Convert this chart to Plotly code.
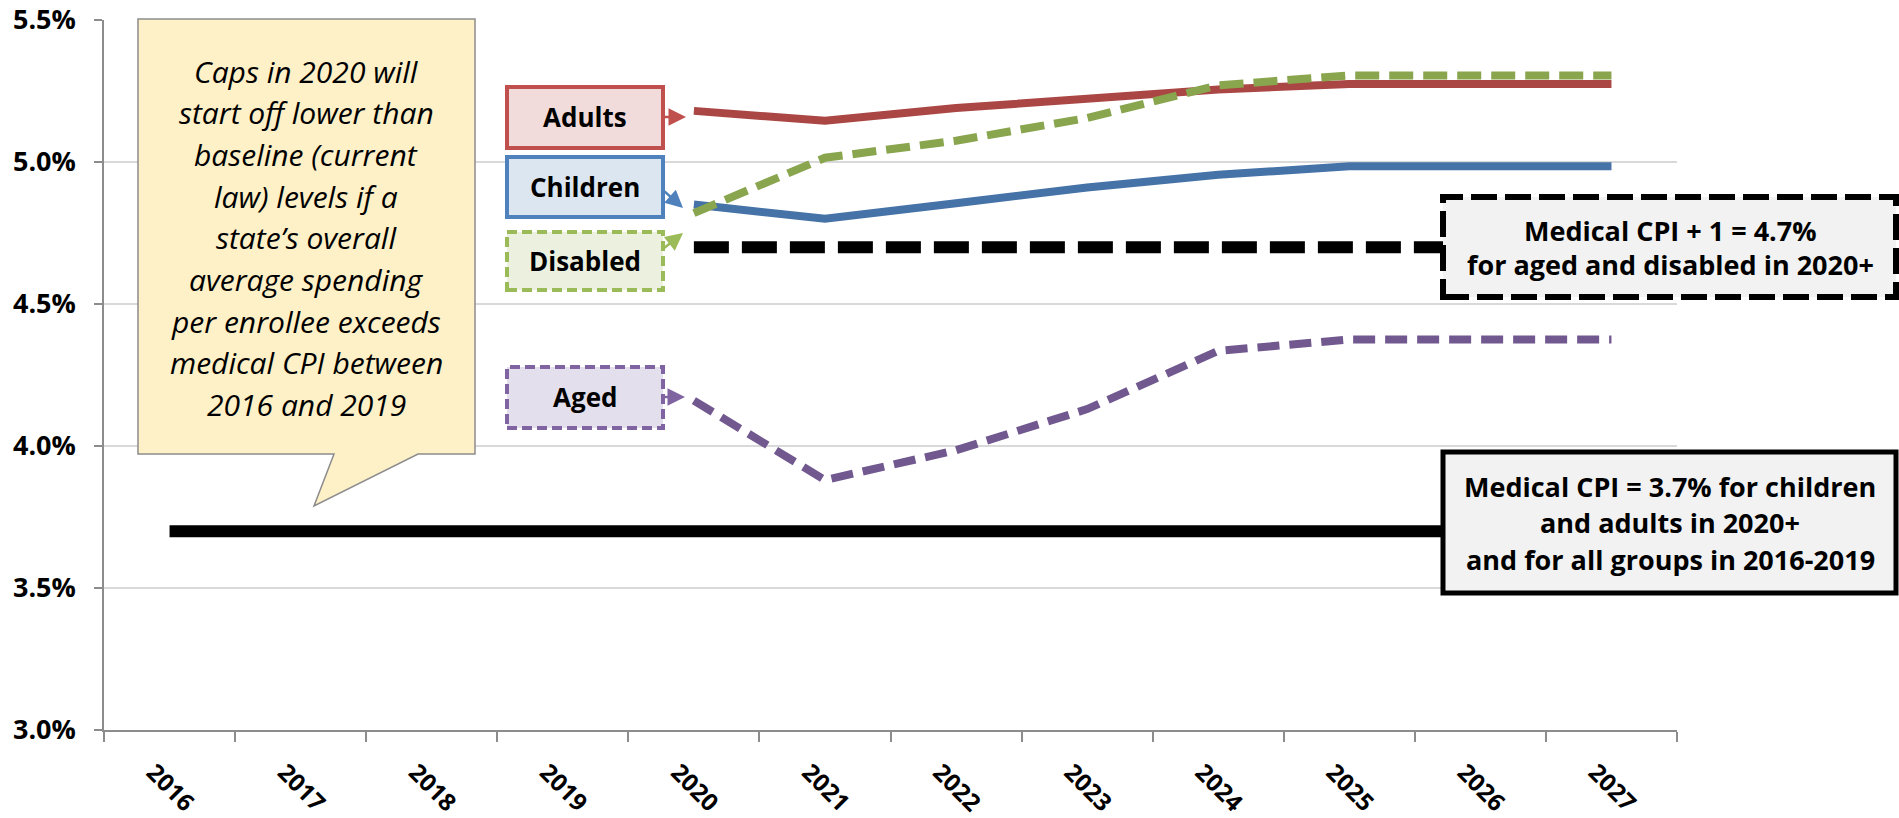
import plotly.graph_objects as go

years = [str(y) for y in range(2016, 2028)]
adults   = [None, None, None, None, 5.18, 5.145, 5.19, 5.22, 5.255, 5.275, 5.275, 5.275]
children = [None, None, None, None, 4.85, 4.80, 4.855, 4.91, 4.955, 4.985, 4.985, 4.985]
disabled = [None, None, None, None, 4.82, 5.015, 5.075, 5.155, 5.27, 5.305, 5.305, 5.305]
aged     = [None, None, None, None, 4.16, 3.88, 3.985, 4.13, 4.335, 4.375, 4.375, 4.375]
cpi_plus1 = [None, None, None, None, 4.7, 4.7, 4.7, 4.7, 4.7, 4.7, 4.7, 4.7]
cpi       = [3.7] * 12
y_ticks = [3.0, 3.5, 4.0, 4.5, 5.0, 5.5]

W, H = 1899, 818
L, R, T, B = 104, 1677, 20, 730
FONT = "Open Sans"


def px(x):
    return (x - L) / (R - L)


def py(y):
    return (B - y) / (B - T)


fig = go.Figure()
fig.add_trace(go.Scatter(x=years, y=cpi, mode="lines", line=dict(color="#000000", width=12), hoverinfo="skip"))
fig.add_trace(go.Scatter(x=years, y=cpi_plus1, mode="lines", line=dict(color="#000000", width=12, dash="35px,13px"), hoverinfo="skip"))
fig.add_trace(go.Scatter(x=years, y=aged, mode="lines", line=dict(color="#71588F", width=8, dash="22px,10px"), hoverinfo="skip"))
fig.add_trace(go.Scatter(x=years, y=children, mode="lines", line=dict(color="#4572A7", width=8), hoverinfo="skip"))
fig.add_trace(go.Scatter(x=years, y=adults, mode="lines", line=dict(color="#AA4643", width=8), hoverinfo="skip"))
fig.add_trace(go.Scatter(x=years, y=disabled, mode="lines", line=dict(color="#89A54E", width=8, dash="24px,10px"), hoverinfo="skip"))

shapes = []
# callout
pts = [(138, 19), (475, 19), (475, 454), (418, 454), (314, 506), (334, 454), (138, 454)]
path = "M " + " L ".join(f"{px(a):.5f},{py(b):.5f}" for a, b in pts) + " Z"
shapes.append(dict(type="path", xref="paper", yref="paper", path=path,
                   fillcolor="#FEF0C7", line=dict(color="#8C8C8C", width=1.5), layer="above"))


def rect(x0, y0, x1, y1, fill, color, width, dash=None):
    ln = dict(color=color, width=width)
    if dash:
        ln["dash"] = dash
    shapes.append(dict(type="rect", xref="paper", yref="paper",
                       x0=px(x0), x1=px(x1), y0=py(y1), y1=py(y0),
                       fillcolor=fill, line=ln, layer="above"))


rect(507, 87, 663, 148, "#F2DCDB", "#C0504D", 4)
rect(507, 157, 663, 217, "#DCE6F1", "#4F81BD", 4)
rect(507, 232, 663, 290, "#EBF1DE", "#9BBB59", 4, "10px,5px")
rect(507, 367, 663, 428, "#E4DFEC", "#8064A2", 4, "10px,5px")
rect(1443, 197, 1896, 297, "#F2F2F2", "#000000", 6, "26px,8px")
rect(1443, 452, 1896, 593, "#F2F2F2", "#000000", 5)

annotations = []


def text(x, y, s, size, italic=False, color="#000000"):
    annotations.append(dict(xref="paper", yref="paper", x=px(x), y=py(y), text=s,
                            showarrow=False, xanchor="center", yanchor="middle",
                            font=dict(family=FONT, size=size, color=color,
                                      style="italic" if italic else "normal",
                                      weight="normal" if italic else "bold")))


callout_lines = ["Caps in 2020 will", "start off lower than", "baseline (current",
                 "law) levels if a", "state\u2019s overall", "average spending",
                 "per enrollee exceeds", "medical CPI between", "2016 and 2019"]
for i, s in enumerate(callout_lines):
    text(306, 71 + i * 41.7, s, 30, italic=True)

text(585, 117, "Adults", 26)
text(585, 187, "Children", 26)
text(585, 261, "Disabled", 26)
text(585, 397, "Aged", 26)

text(1670, 230, "Medical CPI + 1 = 4.7%", 27)
text(1670, 264, "for aged and disabled in 2020+", 27)
text(1670, 486, "Medical CPI = 3.7% for children", 27)
text(1670, 522, "and adults in 2020+", 27)
text(1670, 559, "and for all groups in 2016-2019", 27)


def arrow(x0, y0, x1, y1, color):
    annotations.append(dict(xref="paper", yref="paper", x=px(x1), y=py(y1),
                            ax=x0 - x1, ay=y0 - y1, axref="pixel", ayref="pixel",
                            text="", showarrow=True, arrowhead=2, arrowsize=1.4,
                            arrowwidth=2.5, arrowcolor=color, standoff=0, startstandoff=0))


arrow(663, 117, 686, 117, "#C0504D")
arrow(663, 190, 683, 208, "#4F81BD")
arrow(663, 249, 683, 233, "#9BBB59")
arrow(663, 397, 685, 397, "#8064A2")

fig.update_layout(
    width=W, height=H,
    margin=dict(l=L, r=W - R, t=T, b=H - B, autoexpand=False),
    paper_bgcolor="white", plot_bgcolor="white",
    showlegend=False,
    shapes=shapes, annotations=annotations,
    font=dict(family=FONT, color="#000000"),
)
fig.update_xaxes(type="category", categoryorder="array", categoryarray=years,
                 range=[-0.5, 11.5], showgrid=False, showline=True, linecolor="#8C8C8C",
                 linewidth=1.5, ticks="outside", ticklen=10, tickwidth=1.5, tickcolor="#8C8C8C",
                 tickson="boundaries", tickangle=45, ticklabelstandoff=17, ticklabelshift=-16,
                 automargin=False,
                 tickfont=dict(family=FONT, size=24, color="#000000", weight="bold"))
fig.update_yaxes(range=[3.0, 5.5], tickvals=y_ticks, ticktext=[f"{v:.1f}%" for v in y_ticks],
                 showgrid=True, gridcolor="#D9D9D9", gridwidth=1.5, zeroline=False,
                 showline=True, linecolor="#8C8C8C", linewidth=1.5, ticks="outside",
                 ticklen=8, tickwidth=1.5, tickcolor="#8C8C8C", ticklabelstandoff=13,
                 automargin=False,
                 tickfont=dict(family=FONT, size=27, color="#000000", weight="bold"))

fig.write_html("out.html")
